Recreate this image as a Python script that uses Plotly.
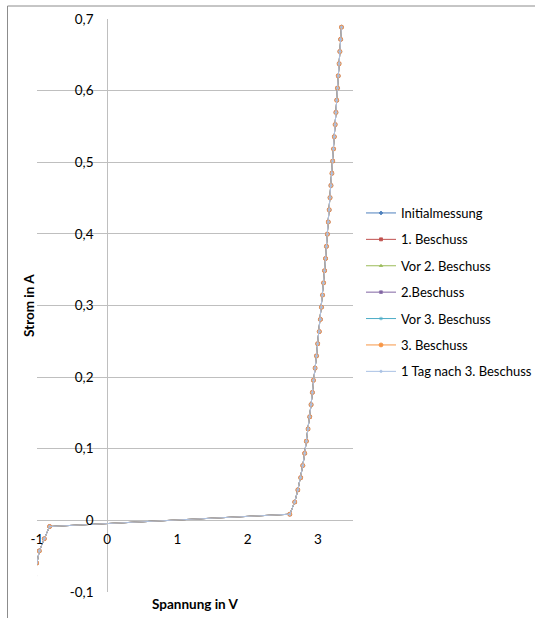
import plotly.graph_objects as go

# ---------------- data ----------------
series_names = [
    "Initialmessung",
    "1. Beschuss",
    "Vor 2. Beschuss",
    "2.Beschuss",
    "Vor 3. Beschuss",
    "3. Beschuss",
    "1 Tag nach 3. Beschuss",
]
series_colors = ["#4F81BD", "#C0504D", "#9BBB59", "#8064A2", "#4BACC6", "#F79646", "#A9C1E4"]
series_symbols = ["diamond", "square", "triangle-up", "x", "asterisk", "circle", "cross"]
series_marker_sizes = [3, 3, 3, 3, 3, 4, 2]

# all seven measurements lie on top of each other in the picture
spannung = [
    -1.035, -1.005, -0.967, -0.896, -0.821,
    2.600, 2.670, 2.715, 2.755, 2.785, 2.812, 2.836, 2.860, 2.884, 2.903,
    2.921, 2.937, 2.960, 2.980, 2.997, 3.020, 3.036, 3.051, 3.066, 3.081,
    3.095, 3.109, 3.122, 3.135, 3.148, 3.161, 3.173, 3.186, 3.200, 3.211,
    3.223, 3.234, 3.246, 3.257, 3.268, 3.279, 3.290, 3.302, 3.313, 3.324,
    3.336,
]
strom = [
    -0.0766, -0.0596, -0.0426, -0.0256, -0.0086,
    0.0086, 0.0256, 0.0426, 0.0596, 0.0766, 0.0936, 0.1106, 0.1276, 0.1446, 0.1616,
    0.1786, 0.1956, 0.2126, 0.2296, 0.2466, 0.2636, 0.2806, 0.2976, 0.3146, 0.3316,
    0.3486, 0.3656, 0.3826, 0.3996, 0.4166, 0.4336, 0.4506, 0.4676, 0.4846, 0.5016,
    0.5186, 0.5356, 0.5526, 0.5696, 0.5866, 0.6036, 0.6206, 0.6376, 0.6546, 0.6716,
    0.6886,
]

x_ticks = [-1, 0, 1, 2, 3]
x_ticktext = ["-1", "0", "1", "2", "3"]
y_ticks = [-0.1, 0.0, 0.1, 0.2, 0.3, 0.4, 0.5, 0.6, 0.7]
y_ticktext = ["-0,1", "0", "0,1", "0,2", "0,3", "0,4", "0,5", "0,6", "0,7"]

x_title = "Spannung in V"
y_title = "Strom in A"

# ---------------- figure ----------------
W, H = 535, 618
ML, MR, MT, MB = 37, 182, 19, 26
XMIN, XMAX = -1, 3.5
YMIN, YMAX = -0.1, 0.7

FONT = "Lato, 'Open Sans', sans-serif"
GRID = "#BFBFBF"

fig = go.Figure()
for i, (name, col, sym, ms) in enumerate(zip(series_names, series_colors, series_symbols, series_marker_sizes)):
    fig.add_trace(go.Scatter(
        x=spannung, y=strom, name=name, mode="lines+markers",
        legendgroup=f"g{i}",
        line=dict(color=col, width=1),
        marker=dict(color=col, size=ms, symbol=sym, line=dict(color=col, width=0.8)),
    ))

pw = W - ML - MR
ph = H - MT - MB

def px_x(px):
    return (px - ML) / pw

def px_y(py):
    return (H - MB - py) / ph

fig.update_layout(
    width=W, height=H, autosize=False,
    margin=dict(l=ML, r=MR, t=MT, b=MB, pad=0, autoexpand=False),
    paper_bgcolor="white", plot_bgcolor="white",
    font=dict(family=FONT, size=13, color="#000000"),
    showlegend=True,
    legend=dict(
        xref="container", yref="container",
        x=361 / W, y=1 - 198 / H, xanchor="left", yanchor="top",
        font=dict(family=FONT, size=13, color="#000000"),
        tracegroupgap=6.5, itemwidth=30, bgcolor="rgba(0,0,0,0)",
    ),
    xaxis=dict(
        range=[XMIN, XMAX], domain=[0, 1],
        anchor="free", position=(0 - YMIN) / (YMAX - YMIN),
        tickvals=x_ticks, ticktext=x_ticktext,
        showgrid=False, zeroline=False, showline=False,
        ticks="", ticklabelstandoff=9, automargin=False,
        tickfont=dict(family=FONT, size=13.5, color="#000000"),
    ),
    yaxis=dict(
        range=[YMIN, YMAX], domain=[0, 1],
        anchor="free", position=(0 - XMIN) / (XMAX - XMIN),
        tickvals=y_ticks, ticktext=y_ticktext,
        showgrid=True, gridcolor=GRID, gridwidth=1,
        zeroline=False, showline=True, linecolor=GRID, linewidth=1,
        ticks="", ticklabelstandoff=11, automargin=False,
        tickfont=dict(family=FONT, size=13.5, color="#000000"),
    ),
    annotations=[
        dict(text=f"<b>{x_title}</b>", xref="paper", yref="paper",
             x=0.5, y=px_y(604), xanchor="center", yanchor="middle",
             showarrow=False, font=dict(family=FONT, size=13.5, color="#000000")),
        dict(text=f"<b>{y_title}</b>", xref="paper", yref="paper",
             x=px_x(28.5), y=0.5, xanchor="center", yanchor="middle", textangle=-90,
             showarrow=False, font=dict(family=FONT, size=13.5, color="#000000")),
    ],
    shapes=[
        dict(type="line", xref="paper", yref="paper",
             x0=px_x(7.5), x1=px_x(540), y0=px_y(6), y1=px_y(6),
             line=dict(color="#8C8C8C", width=1)),
        dict(type="line", xref="paper", yref="paper",
             x0=px_x(7.5), x1=px_x(7.5), y0=px_y(6), y1=px_y(625),
             line=dict(color="#8C8C8C", width=1)),
    ],
)

fig.write_html(
    "out.html",
    config={"displayModeBar": False},
    post_script="document.body.style.margin='0';document.body.style.overflow='hidden';",
)
